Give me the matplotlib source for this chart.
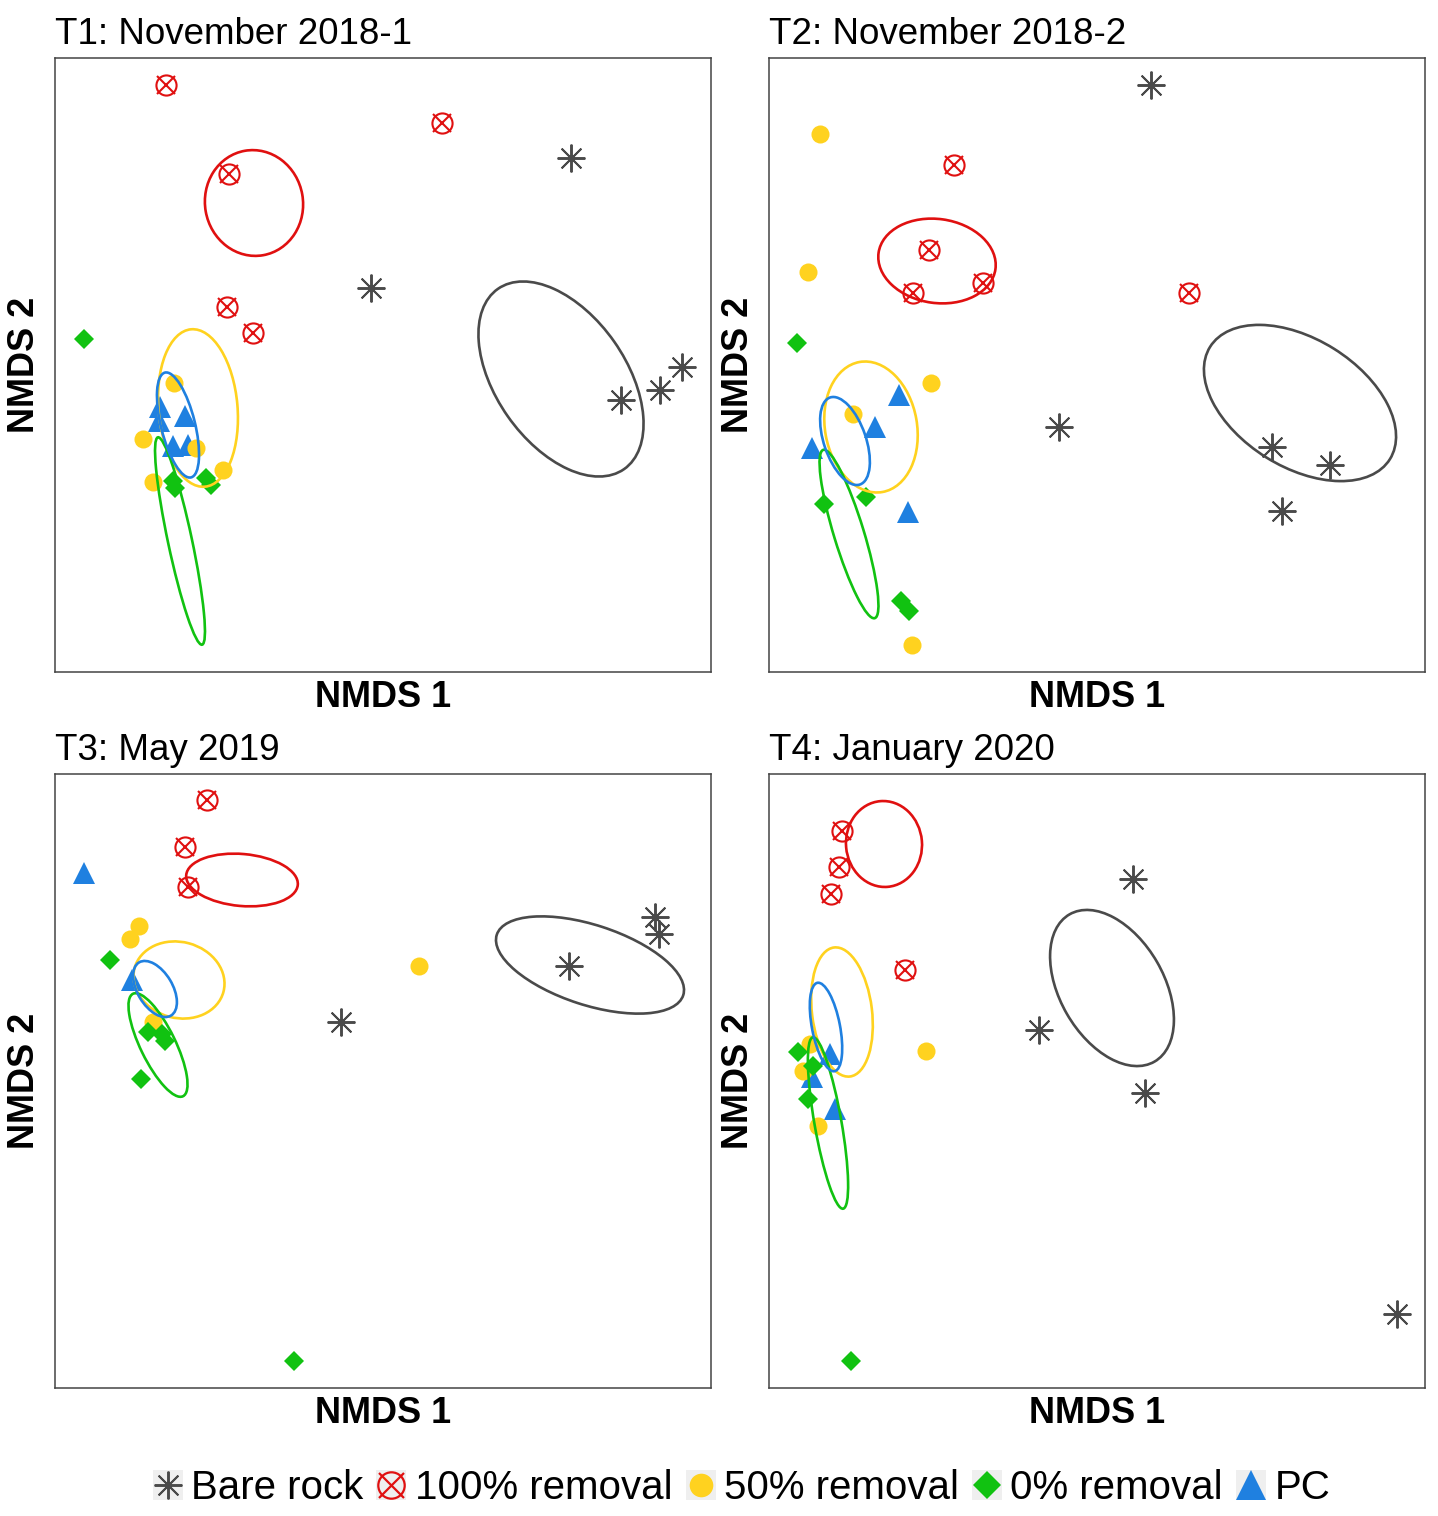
import matplotlib.pyplot as plt
from matplotlib.patches import Ellipse
from matplotlib.lines import Line2D
from matplotlib.legend_handler import HandlerTuple

plt.rcParams['font.family'] = ['Liberation Sans', 'DejaVu Sans']

# NMDS scores (arbitrary units, box is 656 x 614)
titles = ['T1: November 2018-1', 'T2: November 2018-2', 'T3: May 2019', 'T4: January 2020']
groups = ['Bare rock', '100% removal', '50% removal', '0% removal', 'PC']

# T1
t1_bare = [(516, 514), (316, 384), (566, 272), (605, 282), (627, 305)]
t1_r100 = [(111, 587), (387, 549), (174, 498), (172, 365), (198, 339)]
t1_r50 = [(119, 289), (88, 233), (141, 224), (168, 202), (98, 190)]
t1_r0 = [(29, 333), (118, 191), (120, 184), (151, 194), (156, 187)]
t1_pc = [(105, 265), (104, 251), (130, 256), (118, 226), (133, 227)]
# T2
t2_bare = [(382, 587), (290, 245), (503, 225), (561, 207), (513, 161)]
t2_r100 = [(185, 507), (160, 422), (144, 379), (214, 389), (420, 379)]
t2_r50 = [(51, 538), (39, 400), (162, 289), (84, 258), (143, 27)]
t2_r0 = [(28, 329), (55, 168), (97, 175), (132, 71), (140, 61)]
t2_pc = [(130, 277), (106, 245), (43, 224), (139, 160)]
# T3
t3_bare = [(286, 366), (514, 422), (600, 471), (604, 454)]
t3_r100 = [(152, 588), (130, 541), (133, 501)]
t3_r50 = [(84, 462), (75, 449), (364, 422), (98, 366)]
t3_r0 = [(55, 428), (93, 356), (107, 354), (110, 347), (86, 309), (239, 27)]
t3_pc = [(29, 515), (77, 408)]
# T4
t4_bare = [(364, 509), (270, 358), (376, 295), (628, 74)]
t4_r100 = [(73, 557), (70, 521), (62, 494), (136, 418)]
t4_r50 = [(157, 337), (41, 344), (34, 317), (49, 262)]
t4_r0 = [(29, 336), (44, 322), (39, 289), (82, 27)]
t4_pc = [(61, 334), (43, 311), (66, 279)]

# group ellipses: (centre x, centre y, width, height, angle)
t1_ell = [(506, 293, 220, 130, -55), (199, 469, 98, 106, 10), (143, 264, 158, 79, 95),
          (125, 131, 212, 24, 102), (123, 247, 108, 34, 104)]
t2_ell = [(531, 269, 212, 128, -32), (168, 411, 118, 84, -8), (102, 245, 132, 92, 100),
          (80, 138, 176, 30, 107), (76, 231, 92, 42, 109)]
t3_ell = [(535, 423, 196, 80, -18), (187, 508, 112, 52, -5), (124, 408, 92, 76, -15),
          (103, 343, 114, 35, 116), (100, 399, 62, 35, 121)]
t4_ell = [(343, 400, 170, 104, -60), (115, 544, 86, 76, 95), (73, 376, 130, 60, 97),
          (59, 265, 174, 27, 100), (57, 361, 90, 28, 101)]

panels = [
    (t1_bare, t1_r100, t1_r50, t1_r0, t1_pc, t1_ell),
    (t2_bare, t2_r100, t2_r50, t2_r0, t2_pc, t2_ell),
    (t3_bare, t3_r100, t3_r50, t3_r0, t3_pc, t3_ell),
    (t4_bare, t4_r100, t4_r50, t4_r0, t4_pc, t4_ell),
]

grey = '#4a4a4a'
red = '#e01010'
yellow = '#ffd21f'
green = '#11c211'
blue = '#1f80e0'
ell_colors = [grey, red, yellow, green, blue]

W, H = 1438, 1516
fig = plt.figure(figsize=(W / 100, H / 100), dpi=100)
boxes = [(55, 58), (769, 58), (55, 774), (769, 774)]


def xy(pts):
    return [p[0] for p in pts], [p[1] for p in pts]


for i, (bare, r100, r50, r0, pc, ells) in enumerate(panels):
    left, top = boxes[i]
    ax = fig.add_axes([left / W, 1 - (top + 614) / H, 656 / W, 614 / H])
    ax.set_xlim(0, 656)
    ax.set_ylim(0, 614)
    ax.set_xticks([])
    ax.set_yticks([])
    for s in ax.spines.values():
        s.set_color('#444444')
        s.set_linewidth(1.1)

    x, y = xy(pc)
    ax.plot(x, y, '^', color=blue, ms=16, mew=0, ls='none')
    x, y = xy(bare)
    ax.plot(x, y, marker=(8, 2, 0), color=grey, ms=20, mew=1.4, ls='none')
    x, y = xy(r100)
    ax.plot(x, y, 'o', mfc='none', mec=red, ms=14.5, mew=1.5, ls='none')
    ax.plot(x, y, 'x', color=red, ms=13.5, mew=1.5, ls='none')
    x, y = xy(r50)
    ax.plot(x, y, 'o', color=yellow, ms=13, mew=0, ls='none')
    x, y = xy(r0)
    ax.plot(x, y, 'D', color=green, ms=10, mew=0, ls='none')

    for (cx, cy, w, h, a), c in zip(ells, ell_colors):
        ax.add_patch(Ellipse((cx, cy), w, h, angle=a, fill=False, ec=c, lw=1.9, zorder=5))

    ax.set_title(titles[i], loc='left', fontsize=26.5, pad=10)
    ax.set_xlabel('NMDS 1', fontsize=26, fontweight='bold', labelpad=6)
    ax.set_ylabel('NMDS 2', fontsize=26, fontweight='bold', labelpad=9)

# legend with light grey backing behind each symbol
bg = dict(marker='s', color='#efefef', ms=22, ls='none', mew=0)
h_bare = (Line2D([], [], **bg), Line2D([], [], marker=(8, 2, 0), color=grey, ms=20, mew=1.4, ls='none'))
h_r100 = (Line2D([], [], **bg), Line2D([], [], marker='o', mfc='none', mec=red, ms=19, mew=1.6, ls='none'),
          Line2D([], [], marker='x', color=red, ms=18, mew=1.6, ls='none'))
h_r50 = (Line2D([], [], **bg), Line2D([], [], marker='o', color=yellow, ms=17, mew=0, ls='none'))
h_r0 = (Line2D([], [], **bg), Line2D([], [], marker='D', color=green, ms=14, mew=0, ls='none'))
h_pc = (Line2D([], [], **bg), Line2D([], [], marker='^', color=blue, ms=21, mew=0, ls='none'))

fig.legend([h_bare, h_r100, h_r50, h_r0, h_pc], groups, ncol=5, frameon=False,
           loc='center', bbox_to_anchor=(741 / W, 1 - 1488 / H), fontsize=29,
           handler_map={tuple: HandlerTuple(ndivide=1, pad=0)},
           handlelength=0.8, handletextpad=0.18, columnspacing=0.3, borderpad=0)

fig.savefig('out.png', dpi=100, facecolor='white')
